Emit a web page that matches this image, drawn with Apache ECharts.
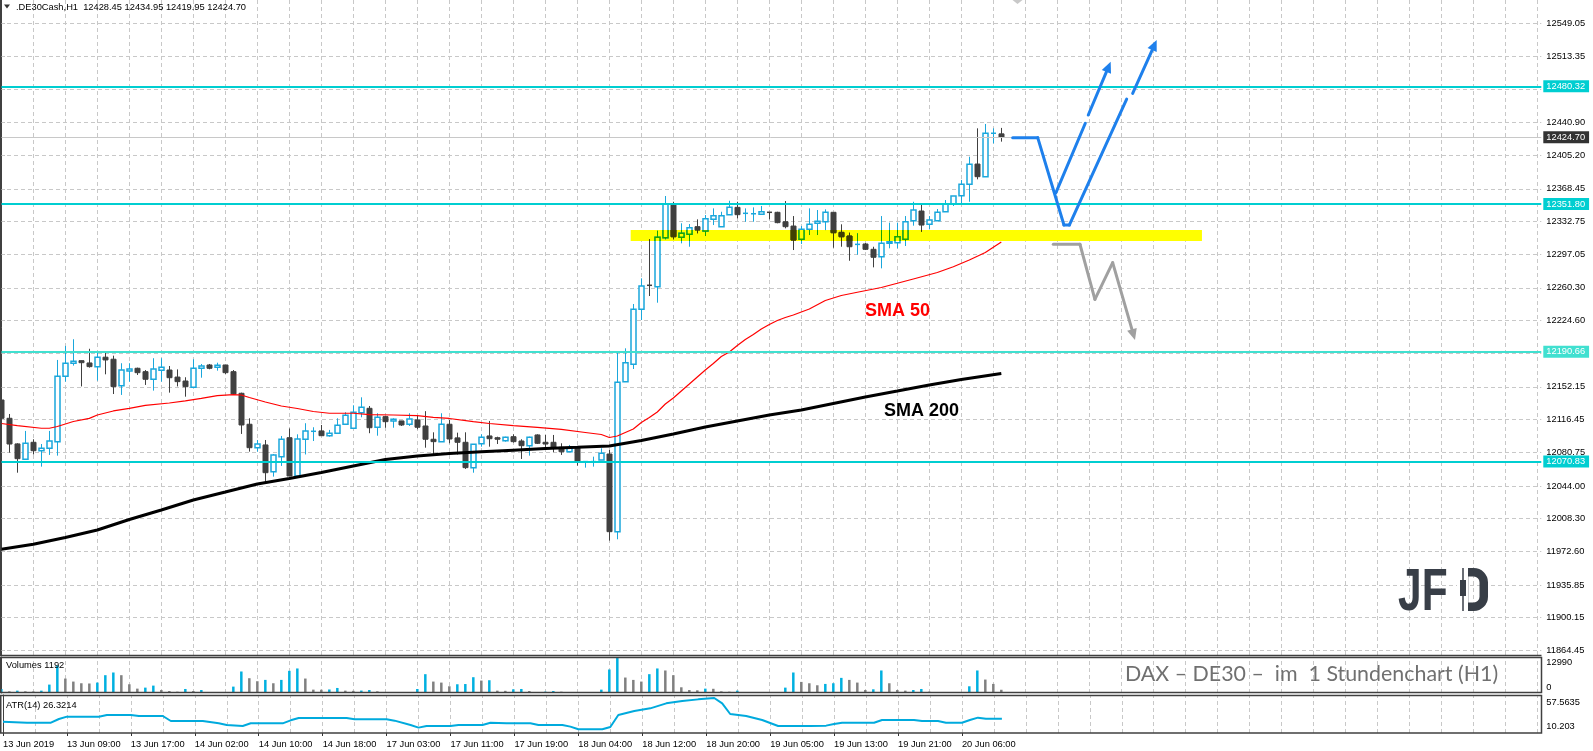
<!DOCTYPE html>
<html>
<head>
<meta charset="utf-8">
<script src="https://cdn.jsdelivr.net/npm/echarts@6/dist/echarts.min.js"></script>
<style>
  html, body { margin: 0; padding: 0; background: #fff; }
  #chart { width: 1593px; height: 751px; }
</style>
</head>
<body>
<div id="chart"></div>
<script>
// .DE30Cash H1, bars 13 Jun 2019 01:00 ... 20 Jun 2019 11:00
const opens = [
  12137.9, 12117.9, 12089.9, 12073.2, 12091.7, 12082.5, 12085.1, 12092.4, 12163.8, 12178.0,
  12180.8, 12178.3, 12174.3, 12184.6, 12182.4, 12153.5, 12169.6, 12172.5, 12168.8, 12160.5,
  12170.3, 12170.6, 12162.9, 12158.6, 12151.8, 12172.5, 12176.1, 12173.6, 12176.1, 12168.8,
  12145.2, 12111.4, 12085.8, 12088.8, 12059.6, 12076.0, 12096.7, 12054.9, 12095.0, 12103.3,
  12104.1, 12098.9, 12101.6, 12111.4, 12107.0, 12124.0, 12128.8, 12108.1, 12119.7, 12115.0,
  12115.0, 12111.4, 12116.1, 12109.5, 12095.0, 12092.4, 12111.4, 12096.5, 12091.7, 12064.0,
  12090.2, 12098.6, 12096.7, 12093.4, 12097.8, 12093.1, 12088.0, 12099.7, 12091.7, 12091.7,
  12086.2, 12081.4, 12086.9, 12069.5, 12069.5, 12072.4, 12078.9, 11994.1, 12157.9, 12176.8,
  12236.9, 12263.1, 12261.5, 12315.0, 12350.7, 12315.5, 12318.8, 12327.1, 12322.4, 12335.1,
  12327.1, 12340.2, 12348.2, 12340.6, 12340.9, 12340.6, 12342.8, 12342.8, 12332.5, 12327.8,
  12313.3, 12324.2, 12330.8, 12332.5, 12342.8, 12320.9, 12316.9, 12307.1, 12308.2, 12302.4,
  12294.3, 12309.0, 12309.6, 12313.3, 12333.6, 12344.2, 12329.7, 12333.6, 12343.4, 12351.5,
  12360.9, 12373.4, 12395.5, 12381.7, 12429.1, 12428.45
];
const highs = [
  12143.4, 12122.6, 12090.6, 12104.1, 12095.0, 12089.8, 12104.1, 12181.6, 12196.9, 12204.2,
  12180.8, 12193.8, 12189.6, 12189.6, 12186.3, 12178.0, 12178.0, 12173.2, 12170.6, 12183.5,
  12183.5, 12175.0, 12171.3, 12162.7, 12182.4, 12177.2, 12177.2, 12178.6, 12176.1, 12170.6,
  12145.9, 12117.9, 12094.2, 12094.2, 12078.9, 12098.6, 12106.8, 12100.4, 12112.5, 12108.1,
  12110.6, 12105.2, 12117.9, 12124.5, 12132.1, 12140.8, 12131.3, 12123.4, 12120.4, 12117.9,
  12115.0, 12123.4, 12121.5, 12125.7, 12102.6, 12123.4, 12116.1, 12102.2, 12102.6, 12089.5,
  12100.4, 12115.0, 12097.8, 12097.8, 12100.4, 12095.0, 12097.8, 12100.4, 12099.7, 12099.7,
  12090.6, 12088.8, 12086.9, 12070.6, 12076.0, 12085.1, 12083.3, 12189.6, 12194.3, 12242.7,
  12270.7, 12313.3, 12322.7, 12360.6, 12354.3, 12330.8, 12330.0, 12335.1, 12339.8, 12347.1,
  12343.4, 12355.4, 12354.3, 12347.1, 12348.2, 12349.7, 12342.8, 12343.4, 12355.1, 12338.7,
  12327.8, 12347.1, 12345.3, 12346.0, 12342.8, 12329.7, 12320.5, 12319.9, 12309.6, 12305.2,
  12338.7, 12331.5, 12331.5, 12338.7, 12354.3, 12350.8, 12338.7, 12346.4, 12356.2, 12360.6,
  12378.1, 12403.5, 12434.5, 12439.2, 12434.5, 12434.95
];
const lows = [
  12107.3, 12080.4, 12058.5, 12073.2, 12078.4, 12065.1, 12077.9, 12077.1, 12157.9, 12175.4,
  12152.7, 12173.2, 12159.0, 12165.9, 12144.4, 12143.4, 12157.9, 12165.2, 12154.3, 12148.1,
  12157.9, 12145.9, 12152.7, 12141.5, 12151.8, 12162.2, 12171.4, 12169.9, 12166.3, 12144.5,
  12100.8, 12081.5, 12081.5, 12047.6, 12054.2, 12065.9, 12054.9, 12054.2, 12078.4, 12093.1,
  12098.6, 12097.8, 12101.6, 12111.4, 12107.0, 12119.0, 12101.6, 12098.9, 12107.6, 12107.6,
  12109.5, 12109.5, 12105.9, 12085.8, 12077.1, 12092.4, 12090.6, 12078.4, 12062.6, 12058.5,
  12086.9, 12086.9, 12089.8, 12092.4, 12091.3, 12073.5, 12077.1, 12089.8, 12084.4, 12080.9,
  12077.9, 12080.9, 12066.2, 12064.0, 12065.1, 12072.4, 11984.3, 11985.8, 12157.9, 12171.7,
  12225.2, 12251.4, 12244.1, 12313.3, 12313.3, 12308.9, 12305.2, 12319.9, 12316.9, 12328.9,
  12327.1, 12340.2, 12336.2, 12332.5, 12332.5, 12340.6, 12335.1, 12330.8, 12325.3, 12301.6,
  12308.2, 12318.0, 12318.0, 12323.4, 12304.1, 12305.2, 12289.9, 12296.5, 12301.6, 12282.7,
  12281.6, 12303.5, 12303.5, 12306.0, 12328.2, 12321.6, 12324.2, 12333.6, 12343.4, 12349.7,
  12350.8, 12354.3, 12378.8, 12381.7, 12418.1, 12419.95
];
const closes = [
  12117.9, 12089.8, 12073.8, 12090.6, 12082.5, 12085.1, 12093.1, 12163.8, 12178.0, 12180.2,
  12178.6, 12174.3, 12184.6, 12181.6, 12152.5, 12170.7, 12171.7, 12167.7, 12160.5, 12171.7,
  12173.6, 12162.2, 12157.9, 12152.4, 12172.5, 12175.0, 12172.5, 12175.8, 12167.7, 12144.5,
  12110.6, 12085.8, 12089.8, 12058.5, 12077.9, 12095.0, 12054.9, 12095.3, 12104.1, 12103.7,
  12098.9, 12101.6, 12110.3, 12121.2, 12124.5, 12129.9, 12107.6, 12119.0, 12114.2, 12116.8,
  12110.6, 12117.2, 12108.1, 12095.0, 12092.4, 12111.4, 12095.3, 12091.7, 12064.0, 12089.5,
  12097.2, 12095.6, 12095.0, 12097.2, 12092.4, 12088.0, 12097.2, 12090.6, 12089.8, 12085.1,
  12081.4, 12085.1, 12069.9, 12070.6, 12070.6, 12079.7, 11994.1, 12157.2, 12178.6, 12236.9,
  12262.3, 12261.5, 12315.5, 12351.8, 12316.1, 12319.9, 12326.0, 12323.5, 12335.8, 12339.1,
  12339.1, 12348.2, 12340.2, 12341.7, 12341.2, 12343.4, 12341.7, 12331.5, 12327.1, 12312.5,
  12324.2, 12329.7, 12333.0, 12342.8, 12320.5, 12316.1, 12305.2, 12307.8, 12302.4, 12293.7,
  12309.0, 12310.7, 12316.1, 12332.5, 12345.3, 12328.9, 12334.4, 12342.8, 12351.5, 12360.6,
  12373.4, 12395.2, 12381.7, 12429.1, 12429.1, 12424.70
];
const volumes = [
  1484, 618, 866, 618, 560, 866, 3093, 10143, 5319, 4206,
  3587, 3500, 3835, 6556, 7546, 6556, 3216, 1608, 1979, 2721,
  1113, 742, 495, 1484, 742, 1113, 247, 124, 371, 2350,
  7917, 5443, 4330, 4824, 3587, 4824, 8164, 9030, 5319, 1237,
  1200, 1300, 1856, 866, 800, 900, 1113, 618, 247, 124,
  100, 130, 1484, 6927, 4206, 3835, 2474, 3216, 3300, 5814,
  4577, 4700, 866, 800, 1361, 1484, 742, 247, 495, 742,
  495, 247, 124, 110, 130, 1237, 8659, 12990, 5690, 4824,
  4206, 6927, 9030, 8288, 6556, 2103, 1113, 990, 1608, 1550,
  618, 495, 866, 247, 124, 60, 124, 247, 1979, 7546,
  4082, 3587, 2845, 3340, 3587, 5567, 4824, 3835, 1113, 1361,
  8288, 3587, 1113, 866, 1113, 1484, 495, 200, 250, 124,
  247, 2474, 8288, 4948, 3340, 1192
];
// [bar, value]
const sma50 = [
  [0, 12112.2], [2, 12109.8], [5, 12107.0], [6, 12107.0], [7, 12108.9], [9, 12114.4], [11, 12117.8],
  [12, 12121.5], [14, 12125.9], [16, 12128.8], [18, 12131.9], [21, 12134.6], [23, 12136.9], [25, 12139.7],
  [27, 12142.7], [29, 12143.7], [30, 12143.3], [31, 12140.6], [33, 12135.7], [35, 12131.3], [37, 12128.6],
  [39, 12125.3], [41, 12123.4], [44, 12123.4], [46, 12122.0], [49, 12121.5], [52, 12120.8], [54, 12119.0],
  [56, 12117.7], [59, 12114.2], [61, 12112.2], [64, 12109.8], [67, 12107.9], [70, 12105.7], [73, 12102.4],
  [75, 12100.2], [76, 12096.9], [77, 12098.6], [78, 12102.4], [79, 12106.2], [80, 12113.3], [81, 12118.8],
  [82, 12124.8], [83, 12133.5], [84, 12140.1], [85, 12147.7], [86, 12155.3], [87, 12163.0], [88, 12170.6],
  [89, 12177.7], [90, 12185.4], [91, 12190.3], [92, 12197.4], [93, 12203.9], [94, 12209.4], [95, 12215.4],
  [96, 12220.3], [97, 12224.7], [98, 12227.9], [99, 12230.7], [101, 12237.2], [103, 12246.5], [105, 12252.0],
  [107, 12255.5], [110, 12260.7], [112, 12265.3], [114, 12270.0], [117, 12277.1], [119, 12283.4],
  [121, 12290.7], [123, 12298.9], [125, 12310.4]
];
const sma200 = [
  [0, 11974.9], [4, 11980.3], [8, 11987.8], [12, 11995.9], [16, 12007.4], [20, 12017.8], [24, 12028.7],
  [28, 12037.4], [32, 12046.2], [36, 12052.2], [40, 12058.7], [44, 12065.8], [48, 12072.9], [52, 12076.7],
  [56, 12079.5], [60, 12081.4], [64, 12083.1], [68, 12084.8], [72, 12086.2], [76, 12087.7], [80, 12093.7],
  [84, 12100.8], [88, 12108.4], [92, 12115.0], [96, 12121.5], [100, 12127.0], [104, 12134.1], [108, 12141.2],
  [112, 12147.7], [116, 12154.3], [120, 12160.3], [125, 12166.8]
];
const atr14 = [
  [0, 22.0], [3, 20.4], [6, 20.4], [7, 26.0], [8, 29.5], [12, 29.5], [13, 32.0], [16, 32.0], [17, 30.5],
  [20, 30.5], [21, 23.0], [25, 23.0], [27, 19.5], [28, 17.0], [30, 15.5], [31, 19.5], [35, 19.5], [36, 24.0],
  [37, 27.5], [43, 27.5], [44, 25.5], [48, 25.5], [49, 23.5], [51, 17.0], [52, 13.0], [53, 15.5], [56, 15.5],
  [57, 17.0], [60, 17.0], [61, 20.4], [63, 19.5], [66, 19.5], [67, 17.0], [70, 17.0], [71, 14.5], [72, 10.5],
  [75, 10.5], [76, 14.0], [77, 32.0], [79, 38.0], [81, 42.0], [83, 49.5], [85, 53.0], [87, 55.5], [89, 57.5],
  [90, 49.5], [91, 33.5], [93, 30.5], [95, 24.5], [97, 15.5], [101, 15.5], [103, 16.0], [104, 18.5],
  [105, 20.4], [109, 20.4], [110, 24.5], [114, 24.5], [115, 23.0], [117, 23.0], [118, 20.4], [120, 20.4],
  [121, 24.5], [122, 28.0], [123, 26.3], [125, 26.32]
];

const priceTicks = [12549.05, 12513.35, 12477.15, 12440.90, 12405.20, 12368.45, 12332.75, 12297.05, 12260.30,
  12224.60, 12188.40, 12152.15, 12116.45, 12080.75, 12044.00, 12008.30, 11972.60, 11935.85, 11900.15, 11864.45];
const timeLabels = ['13 Jun 2019', '13 Jun 09:00', '13 Jun 17:00', '14 Jun 02:00', '14 Jun 10:00', '14 Jun 18:00',
  '17 Jun 03:00', '17 Jun 11:00', '17 Jun 19:00', '18 Jun 04:00', '18 Jun 12:00', '18 Jun 20:00',
  '19 Jun 05:00', '19 Jun 13:00', '19 Jun 21:00', '20 Jun 06:00'];
const volTicks = [0, 12990];
const volTickLabels = ['0', '12990'];
const atrTicks = [10.203, 57.5635];
const atrTickLabels = ['10.203', '57.5635'];

const levels = [12480.32, 12351.80, 12190.66, 12070.83];
const lastPrice = 12424.70;
// support zone [fromBar, toBar, low, high]
const zone = [78.67, 150.08, 12311.5, 12323.5];
// drawn scenario lines [bar1, price1, bar2, price2, arrowhead]
const blueSegs = [
  [126.42, 12424.3, 129.55, 12424.3, 0],
  [129.55, 12424.3, 132.83, 12328.9, 0],
  [132.83, 12328.9, 133.5, 12328.9, 0],
  [131.83, 12364.2, 135.5, 12440.0, 0],
  [135.87, 12449.0, 138.67, 12507.2, 1],
  [133.5, 12328.9, 140.67, 12466.5, 0],
  [141.42, 12472.7, 144.42, 12530.9, 1]
];
const greySegs = [
  [131.5, 12307.9, 134.83, 12307.9, 0],
  [134.83, 12307.9, 136.7, 12247.8, 0],
  [136.7, 12247.8, 138.92, 12287.8, 0],
  [138.92, 12287.8, 141.71, 12203.4, 1]
];

const BULL = '#1aa7dc', BEAR = '#404040';
// same candle colours seen through the yellow zone
const BULL_Z = '#1aa700', BEAR_Z = '#404000', ZONE_C = '#ffff00';
const GRID_C = '#c8c8c8';
const FONT = '"Liberation Sans", Arial, sans-serif';
const levelColors = ['#00ced1', '#00ced1', '#40e0d0', '#00ced1'];

const chart = echarts.init(document.getElementById('chart'));

const X_MIN = -0.1667, X_MAX = 192.5;
const vGrid = [];
for (let i = 4; i <= 192; i += 4) vGrid.push({ xAxis: i });

function gridLines(gi, withH) {
  const data = vGrid.slice();
  if (withH) priceTicks.forEach(p => data.push({ yAxis: p }));
  return {
    type: 'line', xAxisIndex: gi, yAxisIndex: gi, data: [], silent: true,
    markLine: {
      silent: true, symbol: 'none', z: 1, animation: false,
      label: { show: false },
      lineStyle: { color: GRID_C, type: [4, 3], width: 1 },
      data: data
    }
  };
}

function segRenderer(color) {
  return function (params, api) {
    const a = api.coord([api.value(0), api.value(1)]);
    const b = api.coord([api.value(2), api.value(3)]);
    const children = [];
    let end = b;
    if (api.value(4)) {
      const ang = Math.atan2(b[1] - a[1], b[0] - a[0]);
      const L = 11, W = 5;
      const bx = b[0] - L * Math.cos(ang), by = b[1] - L * Math.sin(ang);
      end = [bx, by];
      children.push({
        type: 'polygon',
        shape: { points: [b, [bx - W * Math.sin(ang), by + W * Math.cos(ang)], [bx + W * Math.sin(ang), by - W * Math.cos(ang)]] },
        style: { fill: color }
      });
    }
    children.unshift({
      type: 'line',
      shape: { x1: a[0], y1: a[1], x2: end[0], y2: end[1] },
      style: { stroke: color, lineWidth: 3, lineCap: 'round' }
    });
    return { type: 'group', children: children };
  };
}

function candleShapes(x, top, bot, yH, yL, up, cLine, cFill) {
  const out = [{ type: 'line', shape: { x1: x, y1: yH, x2: x, y2: yL }, style: { stroke: cLine, lineWidth: 1 } }];
  if (bot - top < 1.5) {
    out.push({ type: 'line', shape: { x1: x - 2.5, y1: top, x2: x + 2.5, y2: top }, style: { stroke: cLine, lineWidth: 1.5 } });
  } else {
    out.push({
      type: 'rect', shape: { x: x - 2.5, y: top, width: 5, height: bot - top },
      style: { fill: cFill, stroke: cLine, lineWidth: up ? 1.5 : 1 }
    });
  }
  return out;
}

const candleData = opens.map((o, i) => [i, o, highs[i], lows[i], closes[i]]);
const volData = volumes.map((v, i) => ({
  value: [i, v],
  itemStyle: { color: (i === 0 || v > volumes[i - 1]) ? '#00b0e0' : '#808080' }
}));

const hiddenX = { show: false };

const option = {
  animation: false,
  textStyle: { fontFamily: FONT },
  grid: [
    { left: 0, top: 0, width: 1541.3, height: 655 },
    { left: 0, top: 657, width: 1541.3, height: 36 },
    { left: 0, top: 695, width: 1541.3, height: 38 }
  ],
  xAxis: [
    { gridIndex: 0, type: 'value', min: X_MIN, max: X_MAX, axisLine: hiddenX, axisTick: hiddenX, axisLabel: hiddenX, splitLine: hiddenX },
    { gridIndex: 1, type: 'value', min: X_MIN, max: X_MAX, axisLine: hiddenX, axisTick: hiddenX, axisLabel: hiddenX, splitLine: hiddenX },
    {
      gridIndex: 2, type: 'value', min: X_MIN, max: X_MAX,
      axisLine: hiddenX, splitLine: hiddenX,
      axisTick: { show: true, customValues: timeLabels.map((t, k) => k * 8), length: 3, lineStyle: { color: '#333' } },
      axisLabel: {
        customValues: timeLabels.map((t, k) => k * 8),
        formatter: v => timeLabels[Math.round(v / 8)] || '',
        align: 'left', fontSize: 9.3, color: '#000', margin: 7
      }
    }
  ],
  yAxis: [
    {
      gridIndex: 0, type: 'value', position: 'right', min: 11859.45, max: 12574.6,
      splitLine: { show: false },
      axisLine: { show: true, lineStyle: { color: '#404040', width: 1 } },
      axisTick: { show: true, customValues: priceTicks, length: 3, lineStyle: { color: '#404040' } },
      axisLabel: { customValues: priceTicks, formatter: v => v.toFixed(2), fontSize: 9.3, color: '#000', margin: 5 }
    },
    {
      gridIndex: 1, type: 'value', position: 'right', min: 0, max: 13248,
      splitLine: { show: false },
      axisLine: { show: true, lineStyle: { color: '#404040' } },
      axisTick: { show: false },
      axisLabel: {
        customValues: volTicks, margin: 5, color: '#000', fontSize: 9.3,
        formatter: v => v === volTicks[0] ? '{b|' + volTickLabels[0] + '}' : '{t|' + volTickLabels[1] + '}',
        rich: { t: { padding: [9, 0, 0, 0], fontSize: 9.3, color: '#000' }, b: { padding: [0, 0, 12, 0], fontSize: 9.3, color: '#000' } }
      }
    },
    {
      gridIndex: 2, type: 'value', position: 'right', min: 4.94, max: 62.07,
      splitLine: { show: false },
      axisLine: { show: true, lineStyle: { color: '#404040' } },
      axisTick: { show: false },
      axisLabel: {
        customValues: atrTicks, margin: 5, color: '#000', fontSize: 9.3,
        formatter: v => v === atrTicks[0] ? '{b|' + atrTickLabels[0] + '}' : '{t|' + atrTickLabels[1] + '}',
        rich: { t: { padding: [8, 0, 0, 0], fontSize: 9.3, color: '#000' }, b: { padding: [0, 0, 6, 0], fontSize: 9.3, color: '#000' } }
      }
    }
  ],
  series: [
    gridLines(0, true),
    gridLines(1, false),
    gridLines(2, false),
    {
      name: 'zone', type: 'custom', xAxisIndex: 0, yAxisIndex: 0, z: 2, silent: true,
      data: [zone], encode: { x: [0, 1], y: [2, 3] },
      renderItem: function (params, api) {
        const a = api.coord([api.value(0), api.value(3)]);
        const b = api.coord([api.value(1), api.value(2)]);
        return { type: 'rect', shape: { x: a[0], y: a[1], width: b[0] - a[0], height: b[1] - a[1] }, style: { fill: ZONE_C } };
      }
    },
    {
      name: 'candles', type: 'custom', xAxisIndex: 0, yAxisIndex: 0, z: 3,
      data: candleData,
      encode: { x: 0, y: [1, 2, 3, 4] },
      renderItem: function (params, api) {
        const i = api.value(0), o = api.value(1), h = api.value(2), l = api.value(3), c = api.value(4);
        const pO = api.coord([i, o]), pH = api.coord([i, h]), pL = api.coord([i, l]), pC = api.coord([i, c]);
        const x = Math.round(pO[0]) + 0.5;
        const up = c >= o;
        const top = Math.min(pO[1], pC[1]), bot = Math.max(pO[1], pC[1]);
        const children = [{
          type: 'group',
          children: candleShapes(x, top, bot, pH[1], pL[1], up, up ? BULL : BEAR, up ? '#ffffff' : BEAR)
        }];
        const z1 = api.coord([zone[0], zone[3]]), z2 = api.coord([zone[1], zone[2]]);
        if (x + 3 > z1[0] && x - 3 < z2[0] && pH[1] < z2[1] && pL[1] > z1[1]) {
          children.push({
            type: 'group',
            clipPath: { type: 'rect', shape: { x: z1[0], y: z1[1], width: z2[0] - z1[0], height: z2[1] - z1[1] } },
            children: candleShapes(x, top, bot, pH[1], pL[1], up, up ? BULL_Z : BEAR_Z, up ? ZONE_C : BEAR_Z)
          });
        }
        return { type: 'group', children: children };
      }
    },
    {
      name: 'SMA 200', type: 'line', xAxisIndex: 0, yAxisIndex: 0, z: 4,
      data: sma200, symbol: 'none', lineStyle: { color: '#000', width: 3 }
    },
    {
      name: 'SMA 50', type: 'line', xAxisIndex: 0, yAxisIndex: 0, z: 4,
      data: sma50, symbol: 'none', lineStyle: { color: '#ff0000', width: 1.2 }
    },
    {
      type: 'line', xAxisIndex: 0, yAxisIndex: 0, data: [], silent: true,
      markLine: {
        silent: true, symbol: 'none', z: 6, animation: false,
        data: levels.map((p, k) => ({
          yAxis: p,
          lineStyle: { color: levelColors[k], width: 2, type: 'solid' },
          label: {
            show: true, position: 'end', distance: 2, formatter: p.toFixed(2),
            backgroundColor: levelColors[k], color: '#fff', padding: [2, 4, 1, 3], fontSize: 9.3
          }
        })).concat([{
          yAxis: lastPrice,
          lineStyle: { color: '#c8c8c8', width: 1, type: 'solid' },
          label: {
            show: true, position: 'end', distance: 2, formatter: lastPrice.toFixed(2),
            backgroundColor: '#333333', color: '#fff', padding: [2, 4, 1, 3], fontSize: 9.3
          }
        }])
      }
    },
    {
      name: 'up', type: 'custom', xAxisIndex: 0, yAxisIndex: 0, z: 8, silent: true,
      data: blueSegs, encode: { x: [0, 2], y: [1, 3] }, renderItem: segRenderer('#1e80ec')
    },
    {
      name: 'down', type: 'custom', xAxisIndex: 0, yAxisIndex: 0, z: 8, silent: true,
      data: greySegs, encode: { x: [0, 2], y: [1, 3] }, renderItem: segRenderer('#a0a0a0')
    },
    {
      name: 'Volumes', type: 'bar', xAxisIndex: 1, yAxisIndex: 1, z: 3,
      data: volData, barWidth: 2.5
    },
    {
      name: 'ATR(14)', type: 'line', xAxisIndex: 2, yAxisIndex: 2, z: 3,
      data: atr14, symbol: 'none', lineStyle: { color: '#00aadd', width: 2 }
    }
  ],
  graphic: [
    { type: 'polyline', z: 100, shape: { points: [[0.75, 0], [0.75, 655.5], [1541.5, 655.5]] }, style: { stroke: '#404040', lineWidth: 1.5, fill: null } },
    { type: 'rect', z: 100, shape: { x: 0.75, y: 657.5, width: 1540.75, height: 35 }, style: { stroke: '#404040', lineWidth: 1.5, fill: null } },
    { type: 'rect', z: 100, shape: { x: 0.75, y: 695.5, width: 1540.75, height: 37.5 }, style: { stroke: '#404040', lineWidth: 1.5, fill: null } },
    { type: 'polygon', z: 100, shape: { points: [[4, 4.5], [10, 4.5], [7, 8.5]] }, style: { fill: '#333' } },
    { type: 'text', z: 100, x: 16, y: 7, style: { text: '.DE30Cash,H1  12428.45 12434.95 12419.95 12424.70', font: '9.3px ' + FONT, fill: '#000', verticalAlign: 'middle' } },
    { type: 'polygon', z: 100, shape: { points: [[1012.5, 0], [1022.5, 0], [1017.5, 4]] }, style: { fill: '#c8c8c8' } },
    { type: 'text', z: 100, x: 6, y: 665, style: { text: 'Volumes 1192', font: '9.3px ' + FONT, fill: '#000', verticalAlign: 'middle' } },
    { type: 'text', z: 100, x: 6, y: 705, style: { text: 'ATR(14) 26.3214', font: '9.3px ' + FONT, fill: '#000', verticalAlign: 'middle' } },
    { type: 'text', z: 100, x: 1125, y: 674, style: { text: 'DAX \u2013 DE30 \u2013  im  1 Stundenchart (H1)', font: '21.4px Lato, sans-serif', fill: '#707070', verticalAlign: 'middle' } },
    { type: 'text', z: 100, x: 865, y: 311, style: { text: 'SMA 50', font: 'bold 18px ' + FONT, fill: '#ff0000', verticalAlign: 'middle' } },
    { type: 'text', z: 100, x: 884, y: 411, style: { text: 'SMA 200', font: 'bold 18px ' + FONT, fill: '#000000', verticalAlign: 'middle' } },
    // JFD logo
    { type: 'text', z: 100, x: 1398, y: 594, scaleX: 0.72, style: { text: 'JF', font: 'bold 59px ' + FONT, fill: '#383e47', verticalAlign: 'middle' } },
    { type: 'rect', z: 100, shape: { x: 1464, y: 572.25, width: 19.75, height: 34.5, r: [0, 10, 10, 0] }, style: { stroke: '#383e47', lineWidth: 8.5, fill: null } },
    { type: 'rect', z: 101, shape: { x: 1457, y: 565, width: 11, height: 50 }, style: { fill: '#ffffff' } },
    { type: 'line', z: 102, shape: { x1: 1463, y1: 568, x2: 1463, y2: 611 }, style: { stroke: '#383e47', lineWidth: 1.5 } },
    { type: 'rect', z: 102, shape: { x: 1460, y: 580, width: 6, height: 16 }, style: { fill: '#383e47' } }
  ]
};

chart.setOption(option);
</script>
</body>
</html>
